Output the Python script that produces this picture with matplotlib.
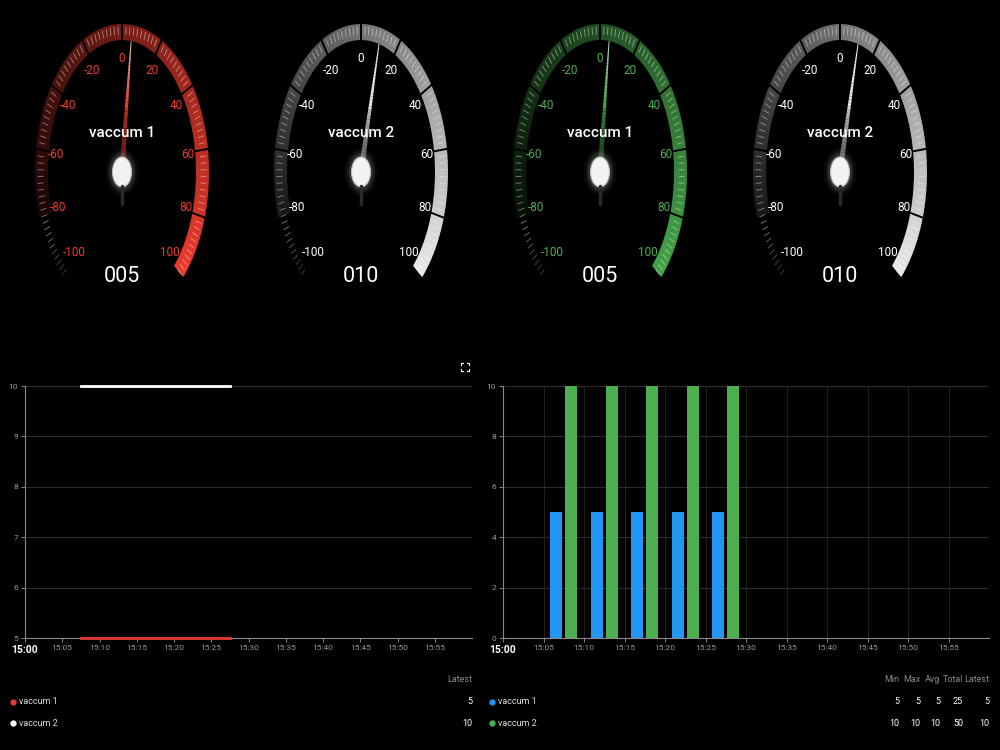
"""Dark dashboard: four vacuum gauges on top, line + bar panels below."""

import matplotlib.pyplot as plt
import numpy as np
from matplotlib.colors import to_rgb
from matplotlib.patches import Ellipse, Polygon

plt.rcParams['font.family'] = ['Roboto', 'DejaVu Sans']

# ---- gauge data ----
gauge_names = ["vaccum 1", "vaccum 2", "vaccum 1", "vaccum 2"]
gauge_values = [5, 10, 5, 10]
gauge_readouts = ["005", "010", "005", "010"]
gauge_colors = ["#e8392b", "#e4e4e4", "#43a047", "#e4e4e4"]
gauge_label_colors = ["#f03a2c", "#ffffff", "#4caf50", "#ffffff"]
scale_labels = [-100, -80, -60, -40, -20, 0, 20, 40, 60, 80, 100]
segment_edges = [-80, -60, -40, -20, 0, 20, 40, 60, 80, 100]
segment_shade = [0.18, 0.28, 0.38, 0.48, 0.58, 0.68, 0.78, 0.88, 1.0]

# ---- time series data ----
sample_times = ["15:07:30", "15:12:30", "15:17:30", "15:22:30", "15:27:30"]
vac1_values = [5, 5, 5, 5, 5]
vac2_values = [10, 10, 10, 10, 10]
time_ticks = ["15:00", "15:05", "15:10", "15:15", "15:20", "15:25",
              "15:30", "15:35", "15:40", "15:45", "15:50", "15:55"]
left_yticks = [5, 6, 7, 8, 9, 10]
right_yticks = [0, 2, 4, 6, 8, 10]
stat_headers = ["Min", "Max", "Avg", "Total", "Latest"]

line_colors = ["#e53935", "#ffffff"]
bar_colors = ["#2196f3", "#4caf50"]


def minutes(s):
    parts = [int(p) for p in s.split(":")]
    secs = parts[2] if len(parts) > 2 else 0
    return (parts[0] - 15) * 60 + parts[1] + secs / 60


def mix(c, other, f):
    c, o = np.array(to_rgb(c)), np.array(to_rgb(other))
    return tuple(np.clip(o + (c - o) * f, 0, 1))


def ell_pt(cx, cy, rx, ry, val):
    th = np.deg2rad(val / 100 * 135)
    return cx + rx * np.sin(th), cy - ry * np.cos(th)


def draw_gauge(ax, cx, cy, name, value, readout, color, lcolor):
    rx, ry = 87, 148
    band = (13, 16)
    # coloured band, segment by segment with a soft gradient inside each
    for i in range(len(segment_edges) - 1):
        v0, v1 = segment_edges[i], segment_edges[i + 1]
        vs = np.linspace(v0, v1, 13)
        for j in range(len(vs) - 1):
            f = segment_shade[i] - 0.07 + 0.09 * j / (len(vs) - 2)
            a, b = vs[j], vs[j + 1] + 0.2
            pts = [ell_pt(cx, cy, rx, ry, a), ell_pt(cx, cy, rx, ry, b),
                   ell_pt(cx, cy, rx - band[0], ry - band[1], b),
                   ell_pt(cx, cy, rx - band[0], ry - band[1], a)]
            ax.add_patch(Polygon(pts, closed=True, lw=0,
                                 fc=mix(color, "black", max(f, 0.05))))
    # minor ticks
    for v in np.arange(-100, 101, 2):
        p0 = ell_pt(cx, cy, rx - 3, ry - 3, v)
        p1 = ell_pt(cx, cy, rx - 8, ry - 10, v)
        alpha = 0.4 if v >= -80 else 0.2 + 0.3 * (v + 100) / 20
        ax.plot([p0[0], p1[0]], [p0[1], p1[1]], color="white",
                alpha=alpha, lw=0.7)
    # segment separators
    for v in segment_edges[1:-1]:
        p0 = ell_pt(cx, cy, rx + 1, ry + 1, v)
        p1 = ell_pt(cx, cy, rx - band[0] - 1, ry - band[1] - 1, v)
        ax.plot([p0[0], p1[0]], [p0[1], p1[1]], color="black", lw=1.4)
    # scale labels
    for v in scale_labels:
        x, y = ell_pt(cx, cy, rx * 0.77, ry * 0.77, v)
        ax.text(x, y, str(v), color=lcolor, fontsize=8.5,
                ha="center", va="center")
    ax.text(cx, cy - 39, name, color="white", fontsize=11,
            ha="center", va="center", fontweight="medium")
    # needle
    tx, ty = ell_pt(cx, cy, rx * 0.89, ry * 0.89, value)
    d = np.array([tx - cx, ty - cy])
    L = np.hypot(*d)
    u = d / L
    n = np.array([-u[1], u[0]])
    s_vals = np.linspace(0.0, 1.0, 40)
    for k in range(len(s_vals) - 1):
        s0, s1 = s_vals[k], s_vals[k + 1]
        w0 = 2.4 * (1 - s0) + 0.4
        w1 = 2.4 * (1 - s1) + 0.4
        p0 = np.array([cx, cy]) + u * L * s0
        p1 = np.array([cx, cy]) + u * L * s1
        sm = (s0 + s1) / 2
        if sm < 0.5:
            col = mix(color, "black", 0.25 + 1.2 * sm)
        else:
            col = mix("white", color, (sm - 0.5) * 1.4)
        ax.add_patch(Polygon([p0 + n * w0, p1 + n * w1, p1 - n * w1,
                              p0 - n * w0], closed=True, lw=0, fc=col))
    ax.plot([cx, cx], [cy + 14, cy + 32], color="#2a2a2a", lw=2.5,
            solid_capstyle="round")
    # knob with glow
    for g, a in [(14, 0.04), (9, 0.07), (5, 0.1)]:
        ax.add_patch(Ellipse((cx, cy), 19 + g, 30 + g * 1.3, fc="white",
                             alpha=a, lw=0))
    ax.add_patch(Ellipse((cx, cy), 19, 30, fc="#f2f2f2", ec="#bbbbbb",
                         lw=0.8))
    ax.text(cx, cy + 104, readout, color="white", fontsize=15.5,
            ha="center", va="center")


fig = plt.figure(figsize=(10, 7.5), dpi=100, facecolor="black")
ov = fig.add_axes([0, 0, 1, 1])
ov.set_xlim(0, 1000)
ov.set_ylim(750, 0)
ov.axis("off")

gauge_x = [122, 361, 600, 840]
for gx, nm, v, ro, c, lc in zip(gauge_x, gauge_names, gauge_values,
                                gauge_readouts, gauge_colors,
                                gauge_label_colors):
    draw_gauge(ov, gx, 172, nm, v, ro, c, lc)

t = np.array([minutes(s) for s in sample_times])
tick_pos = [minutes(s) for s in time_ticks]


def style_axes(ax, yticks, vgrid):
    ax.set_facecolor("black")
    ax.set_xlim(0, 60)
    ax.set_ylim(yticks[0], yticks[-1])
    ax.set_yticks(yticks)
    ax.set_xticks(tick_pos)
    ax.set_xticklabels(time_ticks)
    for sp in ("top", "right"):
        ax.spines[sp].set_visible(False)
    for sp in ("left", "bottom"):
        ax.spines[sp].set_color("#8a8a8a")
        ax.spines[sp].set_linewidth(0.8)
    ax.tick_params(colors="#9a9a9a", labelsize=6, length=3, width=0.6,
                   pad=2)
    ax.grid(axis="y", color="#2c2c2c", lw=0.8)
    if vgrid:
        ax.grid(axis="x", color="#1f1f1f", lw=0.8)
    ax.set_axisbelow(True)
    first = ax.get_xticklabels()[0]
    first.set_fontsize(7.5)
    first.set_fontweight("bold")
    first.set_color("white")


ax1 = fig.add_axes([0.025, 0.1493, 0.447, 0.336])
style_axes(ax1, left_yticks, False)
ax1.plot(t, vac2_values, color=line_colors[1], lw=2, clip_on=False,
         zorder=4)
ax1.plot(t, vac1_values, color=line_colors[0], lw=2, clip_on=False,
         zorder=4)

ax2 = fig.add_axes([0.503, 0.1493, 0.486, 0.336])
style_axes(ax2, right_yticks, True)
bw = 1.45
ax2.bar(t - 0.92, vac1_values, width=bw, color=bar_colors[0], zorder=3)
ax2.bar(t + 0.92, vac2_values, width=bw, color=bar_colors[1], zorder=3)

# expand icon in the top-right corner of the left panel
ix, iy, s, k = 465, 367, 4, 2
for sx, sy in [(-1, -1), (1, -1), (-1, 1), (1, 1)]:
    ox, oy = ix + sx * s, iy + sy * s
    ov.plot([ox, ox - sx * k], [oy, oy], color="white", lw=0.8)
    ov.plot([ox, ox], [oy, oy - sy * k], color="white", lw=0.8)

# legend tables
names = ["vaccum 1", "vaccum 2"]
series = [vac1_values, vac2_values]
row_y = [702, 723]
ov.text(472, 679, "Latest", color="#8a8a8a", fontsize=6.5, ha="right",
        va="center")
for i in range(2):
    ov.plot(13, row_y[i], "o", color=line_colors[i], ms=3.5)
    ov.text(19, row_y[i], names[i], color="#dddddd", fontsize=6.5,
            va="center")
    ov.text(472, row_y[i], str(series[i][-1]), color="white", fontsize=6.5,
            ha="right", va="center")

col_x = [899, 920, 940, 963, 989]
for h, x in zip(stat_headers, col_x):
    ov.text(x, 679, h, color="#8a8a8a", fontsize=6.5, ha="right",
            va="center")
for i in range(2):
    vals = series[i]
    stats = [min(vals), max(vals), int(np.mean(vals)), sum(vals), vals[-1]]
    ov.plot(492, row_y[i], "o", color=bar_colors[i], ms=3.5)
    ov.text(498, row_y[i], names[i], color="#dddddd", fontsize=6.5,
            va="center")
    for sv, x in zip(stats, col_x):
        ov.text(x, row_y[i], str(sv), color="white", fontsize=6.5,
                ha="right", va="center")

fig.savefig("out.png", dpi=100, facecolor="black")
